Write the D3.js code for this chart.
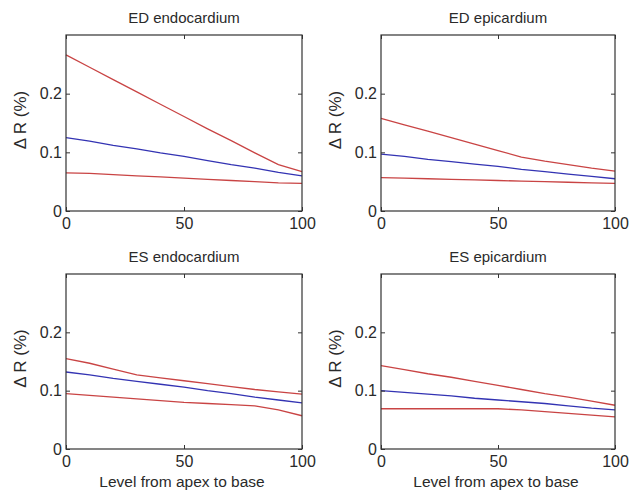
<!DOCTYPE html>
<html>
<head>
<meta charset="utf-8">
<script src="https://cdn.jsdelivr.net/npm/d3@7"></script>
<style>
  body { margin: 0; background: #fff; }
  svg { display: block; font-family: "Liberation Sans", Arial, sans-serif; }
</style>
</head>
<body>
<div id="chart"></div>
<script>
// levels from apex (0) to base (100)
var levels = [0, 10, 20, 30, 40, 50, 60, 70, 80, 90, 100];

// ED endocardium
var edEndoUpper = [0.266, 0.245, 0.224, 0.203, 0.182, 0.161, 0.140, 0.120, 0.099, 0.079, 0.067];
var edEndoMean  = [0.125, 0.119, 0.112, 0.106, 0.099, 0.093, 0.086, 0.079, 0.073, 0.066, 0.060];
var edEndoLower = [0.065, 0.064, 0.062, 0.060, 0.058, 0.056, 0.054, 0.052, 0.050, 0.048, 0.047];
// ED epicardium
var edEpiUpper = [0.158, 0.147, 0.136, 0.125, 0.114, 0.103, 0.092, 0.085, 0.079, 0.073, 0.068];
var edEpiMean  = [0.097, 0.093, 0.088, 0.084, 0.080, 0.076, 0.071, 0.067, 0.063, 0.059, 0.055];
var edEpiLower = [0.057, 0.056, 0.055, 0.054, 0.053, 0.052, 0.051, 0.050, 0.049, 0.048, 0.047];
// ES endocardium
var esEndoUpper = [0.155, 0.147, 0.137, 0.127, 0.122, 0.117, 0.112, 0.107, 0.102, 0.098, 0.094];
var esEndoMean  = [0.132, 0.127, 0.121, 0.116, 0.111, 0.106, 0.100, 0.095, 0.089, 0.084, 0.079];
var esEndoLower = [0.095, 0.092, 0.089, 0.086, 0.083, 0.080, 0.078, 0.076, 0.074, 0.067, 0.057];
// ES epicardium
var esEpiUpper = [0.143, 0.136, 0.129, 0.123, 0.116, 0.109, 0.102, 0.095, 0.089, 0.082, 0.075];
var esEpiMean  = [0.100, 0.097, 0.094, 0.091, 0.087, 0.084, 0.081, 0.078, 0.074, 0.070, 0.067];
var esEpiLower = [0.069, 0.069, 0.069, 0.069, 0.069, 0.069, 0.067, 0.064, 0.061, 0.058, 0.055];

var titles = ["ED endocardium", "ED epicardium", "ES endocardium", "ES epicardium"];
var xTicks = [0, 50, 100];
var yTicks = [0, 0.1, 0.2];
var xLabel = "Level from apex to base";
var yLabel = "\u0394 R (%)";

var W = 629, H = 496;
var svg = d3.select("#chart").append("svg").attr("width", W).attr("height", H);
svg.append("rect").attr("width", W).attr("height", H).attr("fill", "#fff");

// panel boxes: [left, right, top, bottom]
var boxes = [
    [66, 302, 35, 211],
    [381, 615, 35, 211],
    [66, 302, 274, 449],
    [381, 615, 274, 449]
];
var panelData = [
    [edEndoUpper, edEndoMean, edEndoLower],
    [edEpiUpper, edEpiMean, edEpiLower],
    [esEndoUpper, esEndoMean, esEndoLower],
    [esEpiUpper, esEpiMean, esEpiLower]
];
var lineColors = ["#c94444", "#3333b3", "#c94444"];

boxes.forEach(function (b, i) {
    var x = d3.scaleLinear().domain([0, 100]).range([b[0], b[1]]);
    var y = d3.scaleLinear().domain([0, 0.3]).range([b[3], b[2]]);
    var g = svg.append("g");

    //series lines
    var line = d3.line()
        .x(function (d, k) { return x(levels[k]); })
        .y(function (d) { return y(d); });
    panelData[i].forEach(function (s, j) {
        g.append("path")
            .attr("d", line(s))
            .attr("fill", "none")
            .attr("stroke", lineColors[j])
            .attr("stroke-width", 1.3);
    });

    //axes, ticks pointing inward
    g.append("g").attr("transform", "translate(0," + b[3] + ")")
        .call(d3.axisBottom(x).tickValues(xTicks).tickSizeInner(-4).tickSizeOuter(0).tickPadding(7).tickFormat(String));
    g.append("g").attr("transform", "translate(" + b[0] + ",0)")
        .call(d3.axisLeft(y).tickValues(yTicks).tickSizeInner(-4).tickSizeOuter(0).tickPadding(4).tickFormat(String));
    g.append("g").attr("transform", "translate(0," + b[2] + ")")
        .call(d3.axisTop(x).tickValues(xTicks).tickSizeInner(-4).tickSizeOuter(0).tickFormat(""));
    g.append("g").attr("transform", "translate(" + b[1] + ",0)")
        .call(d3.axisRight(y).tickValues(yTicks).tickSizeInner(-4).tickSizeOuter(0).tickFormat(""));
    g.selectAll(".domain").remove();
    g.selectAll(".tick line").attr("stroke", "#333");
    g.selectAll(".tick text")
        .attr("fill", "#2a2a2a")
        .style("font-size", "16px")
        .style("font-family", "'Liberation Sans', Arial, sans-serif");

    g.append("rect")
        .attr("x", b[0]).attr("y", b[2])
        .attr("width", b[1] - b[0]).attr("height", b[3] - b[2])
        .attr("fill", "none").attr("stroke", "#333").attr("stroke-width", 1.2);

    //title
    g.append("text")
        .attr("x", (b[0] + b[1]) / 2).attr("y", b[2] - 12)
        .attr("text-anchor", "middle")
        .attr("fill", "#2a2a2a")
        .style("font-size", "15px")
        .text(titles[i]);

    //y label
    g.append("text")
        .attr("transform", "translate(" + (b[0] - 40) + "," + ((b[2] + b[3]) / 2 - 3) + ") rotate(-90)")
        .attr("text-anchor", "middle")
        .attr("fill", "#2a2a2a")
        .style("font-size", "17px")
        .text(yLabel);

    //x label on bottom row only
    if (i >= 2) {
        g.append("text")
            .attr("x", (b[0] + b[1]) / 2 - 2).attr("y", b[3] + 38)
            .attr("text-anchor", "middle")
            .attr("fill", "#2a2a2a")
            .style("font-size", "15.5px")
            .text(xLabel);
    }
});
</script>
</body>
</html>
